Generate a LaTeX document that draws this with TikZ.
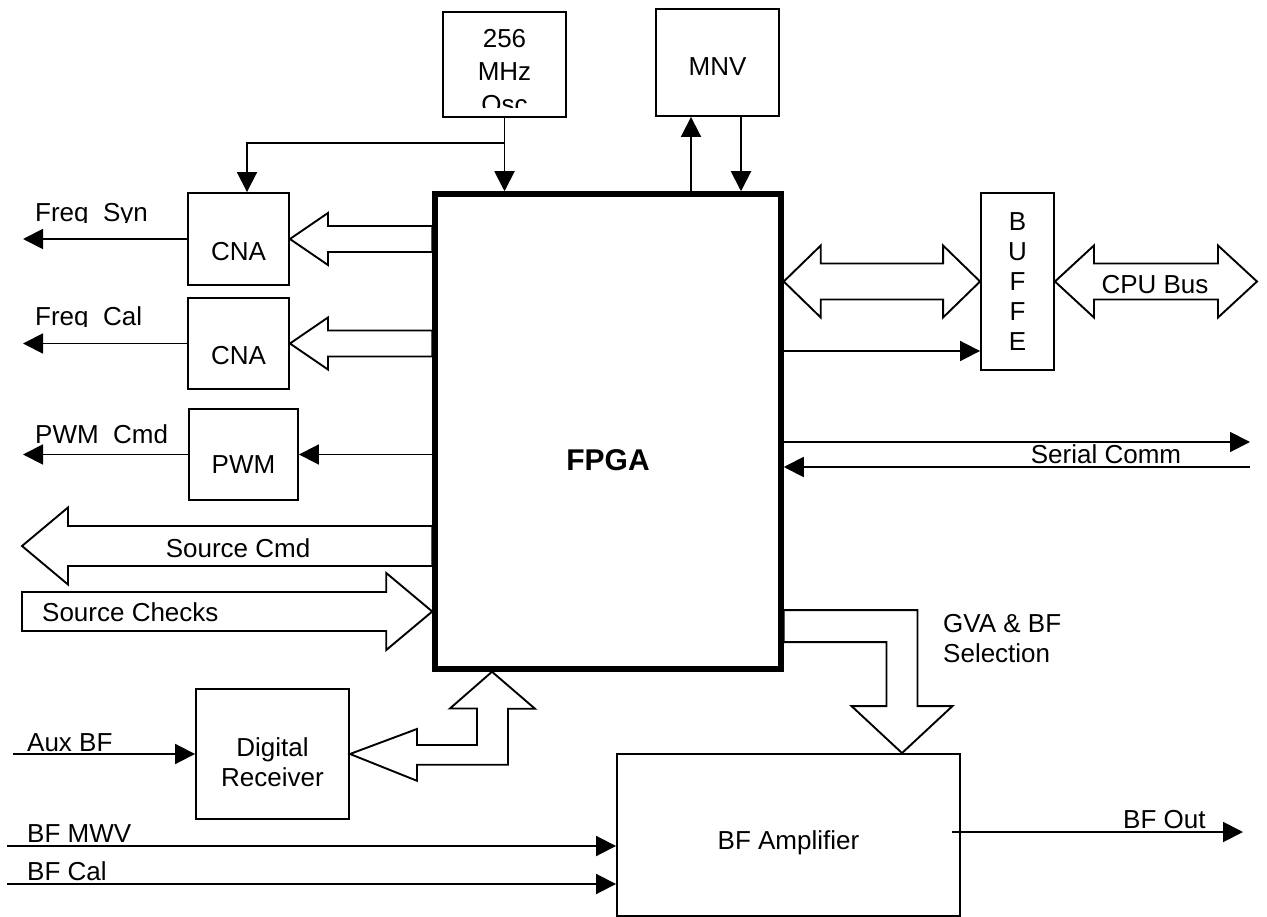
\documentclass[tikz,border=0pt]{standalone}
\usepackage{fontspec}
\setmainfont{Liberation Sans}
\usetikzlibrary{arrows.meta, calc}

% block arrow, one head: tip, tail reference, head length, head half, shaft half
\newcommand{\hfat}[5]{\draw[fat] (#1) -- ++(#3,-#4) -- ++(0,#4-#5) coordinate (fp) -- (fp -| #2) -- ++(0,2*#5) coordinate (fq) -- (fq -| fp) -- ++(0,#4-#5) -- cycle;}
% block arrow, two heads: left tip, right tip, head length, head half, shaft half
\newcommand{\fatboth}[5]{\draw[fat] (#1) -- ++(#3,-#4) -- ++(0,#4-#5) -- ($(#2)+(-#3,-#5)$) -- ++(0,#5-#4) -- (#2) -- ++(-#3,#4) -- ++(0,#5-#4) -- ($(#1)+(#3,#5)$) -- ++(0,#4-#5) -- cycle;}

\begin{document}
\begin{tikzpicture}[x=1pt, y=-1pt,
    every node/.style={font=\fontsize{26}{30}\selectfont},
    blk/.style={draw, line width=1.9pt, inner sep=0pt},
    sig/.style={line width=1.9pt, -{Triangle[length=20pt, width=20pt]}},
    fat/.style={draw, line width=1.9pt, line join=miter},
    lbl/.style={anchor=base west, inner sep=0pt}]
  \useasboundingbox (0,0) rectangle (1267,917);
  % Blocks
  \node[blk, line width=5.5pt, minimum width=346pt, minimum height=475pt,
    label={[font=\fontsize{30}{34}\selectfont\bfseries, yshift=-28.5pt]center:FPGA}] (fpga) at (608,431.5) {};
  \node[blk, minimum width=123pt, minimum height=105pt] (osc) at (504.5,64.5) {};
  \node[blk, minimum width=123pt, minimum height=107pt, label={[yshift=-4.5pt]center:MNV}] (mnv) at (717.5,62.5) {};
  \node[blk, minimum width=101pt, minimum height=92pt, label={[yshift=-13pt]center:CNA}] (cna1) at (238.5,239) {};
  \node[blk, minimum width=101pt, minimum height=91pt, label={[yshift=-12pt]center:CNA}] (cna2) at (238.5,343.5) {};
  \node[blk, minimum width=109pt, minimum height=91pt, label={[yshift=-10.5pt]center:PWM}] (pwm) at (243.5,454.5) {};
  \node[blk, minimum width=73pt, minimum height=177pt, align=center] (buf) at (1017.5,281.5) {B\\U\\F\\F\\E};
  \node[blk, minimum width=153pt, minimum height=130pt, label={[yshift=-8pt, align=center]center:Digital\\Receiver}] (rcv) at (272.5,754) {};
  \node[blk, minimum width=343pt, minimum height=162pt, label={[yshift=-8pt]center:BF Amplifier}] (amp) at (788.5,835) {};
  % Osc text, cut at the bottom
  \begin{scope}
    \clip (osc.north west) rectangle ([yshift=10pt]osc.south east);
    \node[font=\fontsize{26}{33}\selectfont, align=center] (osctxt) at ([yshift=-7.5pt]osc.center) {256\\MHz\\Osc};
  \end{scope}
  % Free ends
  \coordinate (synout) at (23,239);
  \coordinate (calout) at (23,343.5);
  \coordinate (pwmout) at (23,454.5);
  \coordinate (cmdout) at (22,546);
  \coordinate (chkin) at (22,611.5);
  \coordinate (cpubus) at (1257,281.5);
  \coordinate (serout) at (1250,442);
  \coordinate (serin) at (1250,467);
  \coordinate (auxin) at (13,754);
  \coordinate (mwvin) at (7,846);
  \coordinate (calin) at (7,884);
  \coordinate (bfout) at (1243,832);
  % Clock
  \coordinate (oscbr) at ([yshift=-25pt]osc.south);
  \coordinate (cnain) at ([xshift=8.5pt]cna1.north);
  \draw[sig] (osc.south) -- (osc.south |- fpga.north);
  \draw[sig] (oscbr) -| (cnain);
  % Memory
  \coordinate (mnvup) at ([xshift=-26.5pt]mnv.south);
  \coordinate (mnvdn) at ([xshift=23.5pt]mnv.south);
  \draw[sig] (mnvup |- fpga.north) -- (mnvup);
  \draw[sig] (mnvdn) -- (mnvdn |- fpga.north);
  % Left side
  \draw[sig] (cna1.west) -- (synout);
  \draw[sig] (cna2.west) -- (calout);
  \draw[sig] (pwm.west) -- (pwmout);
  \draw[sig] (fpga.west |- pwm.east) -- (pwm.east);
  \hfat{cna1.east}{fpga.west}{38}{26}{13}
  \hfat{cna2.east}{fpga.west}{38}{26}{13}
  \hfat{cmdout}{fpga.west}{46}{38.5}{20}
  \hfat{fpga.west |- chkin}{chkin}{-46}{38.5}{19.5}
  % Buffer side
  \fatboth{fpga.east |- buf.west}{buf.west}{37}{36}{18}
  \fatboth{buf.east}{cpubus}{39}{36}{18}
  \coordinate (bufin) at ([yshift=-69.5pt]buf.west);
  \draw[sig] (fpga.east |- bufin) -- (bufin);
  \draw[sig] (fpga.east |- serout) -- (serout);
  \draw[sig] (serin) -- (fpga.east |- serin);
  % Receiver and amplifier
  \draw[sig] (auxin) -- (rcv.west);
  \draw[sig] (mwvin) -- (amp.west |- mwvin);
  \draw[sig] (calin) -- (amp.west |- calin);
  \draw[sig] ([xshift=-9pt,yshift=3pt]amp.east) -- (bfout);
  \coordinate (rcvup) at ([xshift=-116pt]fpga.south);
  \draw[fat] (rcv.east) -- ++(67,-25) coordinate (rh) -- ++(0,16) -- ++(60,0) -- ++(0,-36.5) -- ++(-27,0)
    -- (rcvup) -- ++(43,37) -- ++(-27,0) -- ++(0,56) coordinate (rl) -- (rl -| rh) -- ++(0,16) -- cycle;
  \coordinate (gvatip) at ([xshift=113.5pt]amp.north);
  \draw[fat] (gvatip) -- ++(-50.5,-47) -- ++(35,0) -- ++(0,-64) coordinate (g1) -- (g1 -| fpga.east)
    -- ++(0,-32) coordinate (g2) -- ($(g2 -| gvatip)+(15.5,0)$) -- ++(0,96) -- ++(35,0) -- cycle;
  % Labels
  \begin{scope}
    \clip (0,150) rectangle (185,222.5);
    \node[lbl] (synlbl) at (35,222) {Freq\ \ Syn};
  \end{scope}
  \begin{scope}
    \clip (0,260) rectangle (185,326.5);
    \node[lbl] (callbl) at (35,326) {Freq\ \ Cal};
  \end{scope}
  \node[lbl] (pwmlbl) at (35,443) {PWM\ \ Cmd};
  \node[lbl, anchor=base] (cmdlbl) at (238,557) {Source Cmd};
  \node[lbl] (chklbl) at (42,621) {Source Checks};
  \node[lbl, anchor=base] (buslbl) at (1155,294) {CPU Bus};
  \node[lbl, anchor=base] (serlbl) at (1106,463) {Serial Comm};
  \node[lbl] (auxlbl) at (27,751) {Aux BF};
  \node[lbl] (mwvlbl) at (27,842) {BF MWV};
  \node[lbl] (bfcallbl) at (27,880) {BF Cal};
  \node[lbl] (outlbl) at (1123,828) {BF Out};
  \node[lbl, anchor=west, align=left] (gvalbl) at (943,639) {GVA \& BF\\Selection};
\end{tikzpicture}
\end{document}
